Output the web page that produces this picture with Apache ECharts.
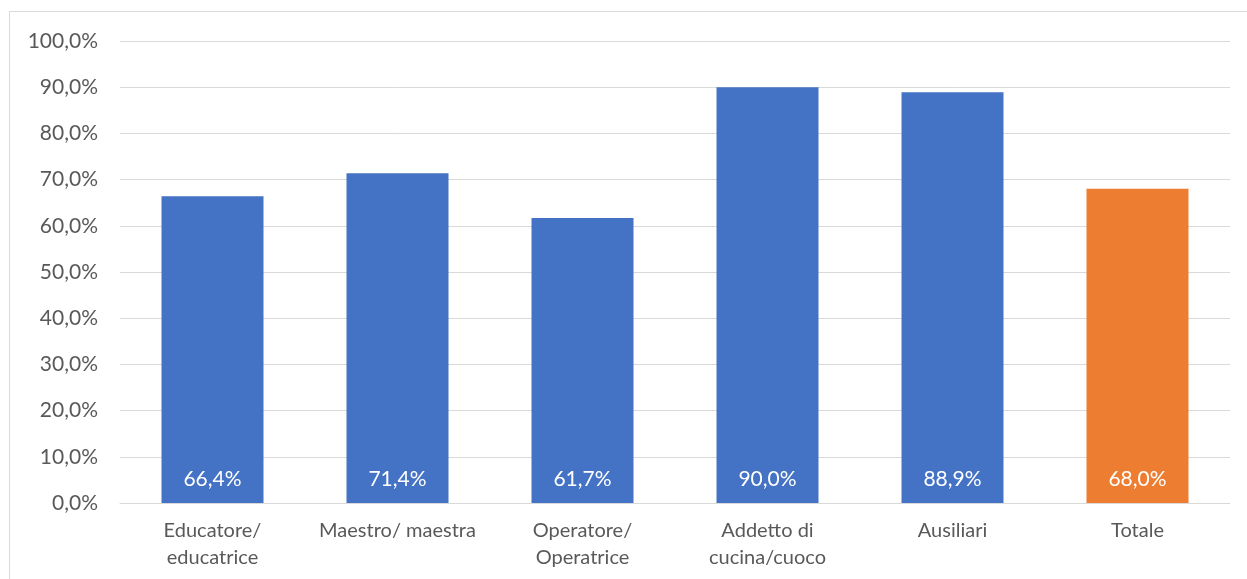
<!DOCTYPE html>
<html><head><meta charset="utf-8">
<script src="https://cdn.jsdelivr.net/npm/echarts@6/dist/echarts.min.js"></script>
<style>
html,body{margin:0;padding:0;background:#fff;overflow:hidden;}
#frame{position:absolute;left:9px;top:11px;width:1300px;height:700px;border:1px solid #d9d9d9;box-sizing:border-box;}
#c{position:absolute;left:0;top:0;width:1247px;height:579px;}
</style></head>
<body><div id="frame"></div><div id="c"></div>
<script>
const categories = ["Educatore/\neducatrice", "Maestro/ maestra", "Operatore/\nOperatrice", "Addetto di\ncucina/cuoco", "Ausiliari", "Totale"];
const values = [66.4, 71.4, 61.7, 90.0, 88.9, 68.0];
const colors = ["#4472C4", "#4472C4", "#4472C4", "#4472C4", "#4472C4", "#ED7D31"];
const fmt = v => v.toFixed(1).replace('.', ',') + '%';
const chart = echarts.init(document.getElementById('c'));
const font = 'Lato, "Open Sans", sans-serif';
chart.setOption({
  animation: false,
  grid: {left: 120, right: 17, top: 41, bottom: 76},
  xAxis: {
    type: 'category', data: categories,
    axisLine: {lineStyle: {color: '#d9d9d9', width: 1}},
    axisTick: {show: false},
    axisLabel: {color: '#595959', fontSize: 20, fontFamily: font, margin: 14, lineHeight: 27, interval: 0}
  },
  yAxis: {
    type: 'value', min: 0, max: 100, interval: 10,
    axisLine: {show: false}, axisTick: {show: false},
    splitLine: {lineStyle: {color: '#d9d9d9', width: 1}},
    axisLabel: {color: '#595959', fontSize: 21, fontFamily: font, margin: 22, formatter: v => fmt(v)}
  },
  series: [{
    type: 'bar', barWidth: 102,
    data: values.map((v, i) => ({value: v, itemStyle: {color: colors[i]}})),
    label: {show: true, position: 'insideBottom', distance: 13, color: '#fff', fontSize: 21, fontFamily: font, formatter: p => fmt(p.value)}
  }]
});
</script></body></html>
